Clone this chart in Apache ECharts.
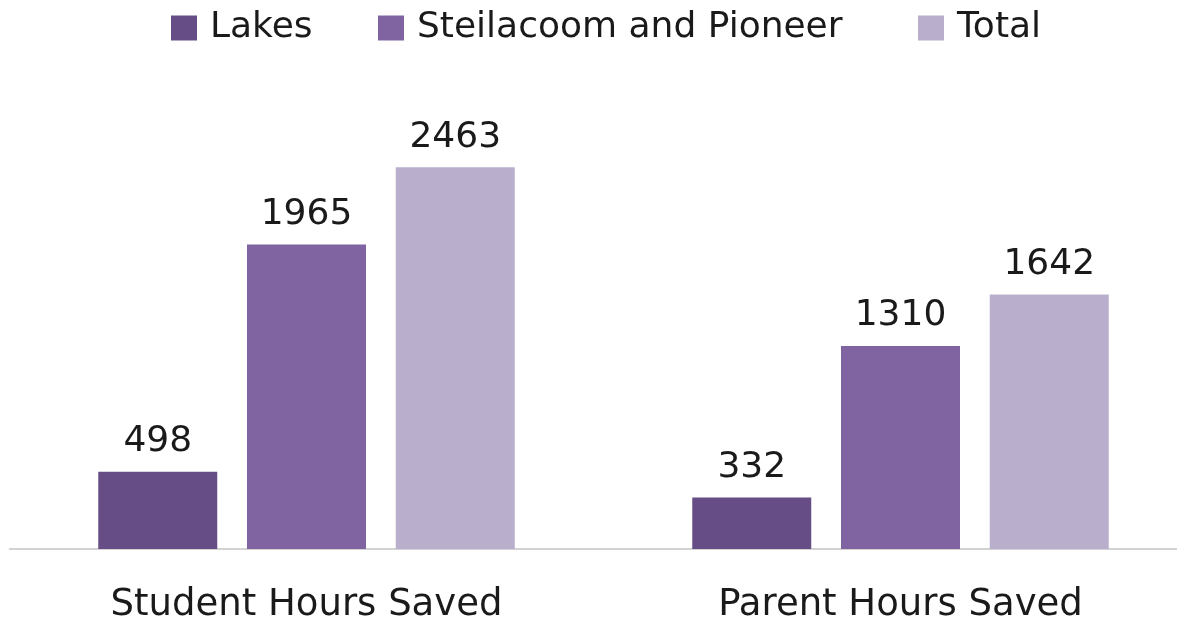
<!DOCTYPE html>
<html>
<head>
<meta charset="utf-8">
<script src="https://cdn.jsdelivr.net/npm/echarts@6/dist/echarts.min.js"></script>
<style>
html,body{margin:0;padding:0;background:#fff;overflow:hidden;width:1177px;height:624px;}
#chart{width:1198px;height:624px;}
</style>
</head>
<body>
<div id="chart"></div>
<script>
const categories = ['Student Hours Saved', 'Parent Hours Saved'];
const seriesNames = ['Lakes', 'Steilacoom and Pioneer', 'Total'];
const lakes = [498, 332];
const steilacoom = [1965, 1310];
const total = [2463, 1642];
const colors = ['#664d86', '#8064a2', '#b9aecb'];
const legendLefts = [166, 373, 913];

const font = '"DejaVu Sans", "Open Sans", sans-serif';
const chart = echarts.init(document.getElementById('chart'), null, {renderer: 'canvas'});
const dataSets = [lakes, steilacoom, total];
chart.setOption({
  animation: false,
  backgroundColor: '#ffffff',
  legend: seriesNames.map((n, i) => ({
    top: 5,
    left: legendLefts[i],
    itemWidth: 26,
    itemHeight: 25,
    icon: 'rect',
    textStyle: {fontFamily: font, fontSize: 36, color: '#1a1a1a', padding: [0, 0, 0, 8]},
    data: [n]
  })),
  grid: {left: 9.5, right: 0.5, top: 84, bottom: 72, containLabel: false},
  xAxis: {
    type: 'category',
    data: categories,
    axisLine: {show: true, lineStyle: {color: '#c4c4c4', width: 1.5}},
    axisTick: {show: false},
    axisLabel: {fontFamily: font, fontSize: 37, color: '#1a1a1a', margin: 38}
  },
  yAxis: {
    type: 'value',
    min: 0,
    max: 3000,
    show: false,
    splitLine: {show: false}
  },
  series: seriesNames.map((name, i) => ({
    name: name,
    type: 'bar',
    data: dataSets[i],
    barWidth: 119,
    barGap: '25%',
    itemStyle: {color: colors[i]},
    label: {
      show: true,
      position: 'top',
      distance: 12,
      fontFamily: font,
      fontSize: 36,
      color: '#1a1a1a'
    }
  }))
});
</script>
</body>
</html>
